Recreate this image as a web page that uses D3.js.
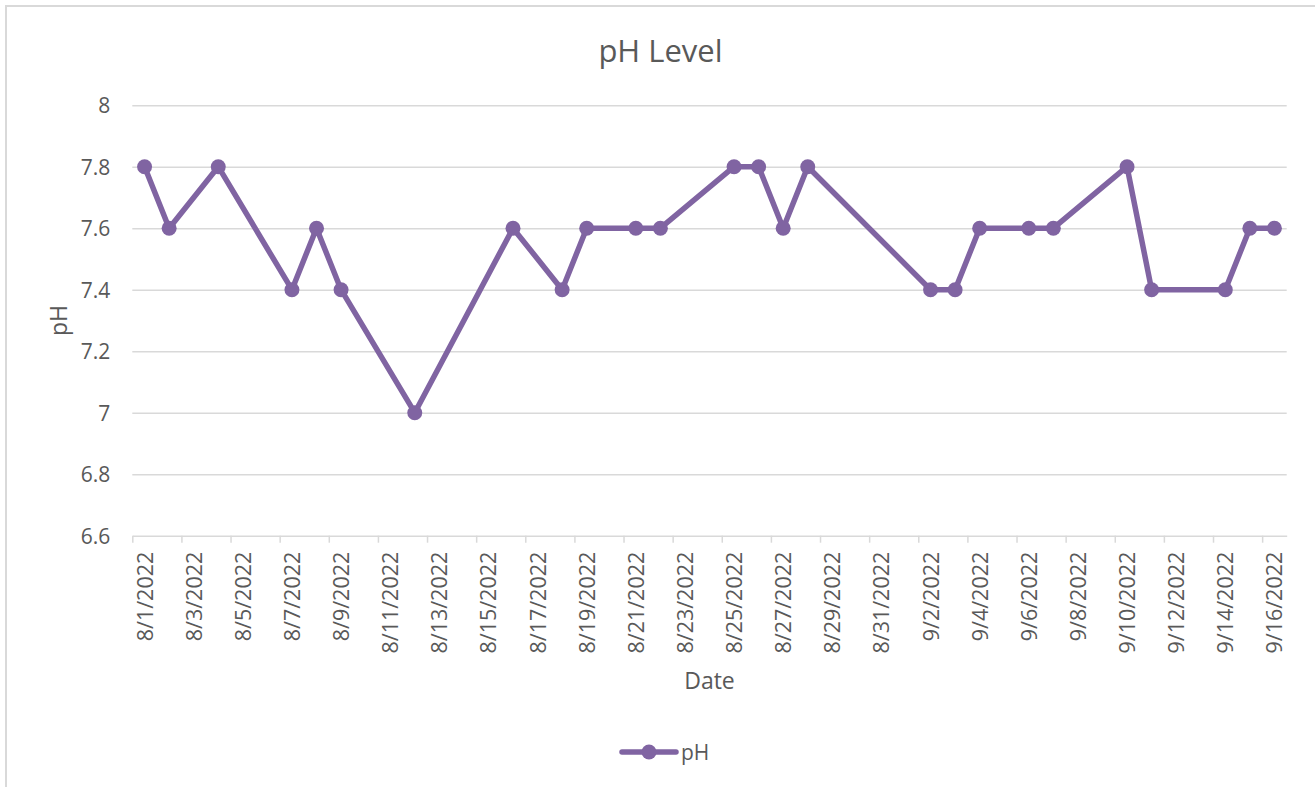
<!DOCTYPE html>
<html>
<head>
<meta charset="utf-8">
<script src="https://cdn.jsdelivr.net/npm/d3@7"></script>
<style>
  html, body { margin: 0; padding: 0; background: #fff; }
  svg { display: block; }
  svg text { font-family: "Open Sans", "Liberation Sans", sans-serif; }
  .domain { stroke: #d9d9d9; stroke-width: 1.5; }
</style>
</head>
<body>
<svg id="chart" width="1315" height="787"></svg>
<script>
// Daily pH readings
const readingDates = [
  "2022-08-01", "2022-08-02", "2022-08-04", "2022-08-07", "2022-08-08", "2022-08-09",
  "2022-08-12", "2022-08-16", "2022-08-18", "2022-08-19", "2022-08-21", "2022-08-22",
  "2022-08-25", "2022-08-26", "2022-08-27", "2022-08-28", "2022-09-02", "2022-09-03",
  "2022-09-04", "2022-09-06", "2022-09-07", "2022-09-10", "2022-09-11", "2022-09-14",
  "2022-09-15", "2022-09-16"
];
const phValues = [
  7.8, 7.6, 7.8, 7.4, 7.6, 7.4,
  7.0, 7.6, 7.4, 7.6, 7.6, 7.6,
  7.8, 7.8, 7.6, 7.8, 7.4, 7.4,
  7.6, 7.6, 7.6, 7.8, 7.4, 7.4,
  7.6, 7.6
];

// Axis labels
const xTickDates = [
  "2022-08-01", "2022-08-03", "2022-08-05", "2022-08-07", "2022-08-09", "2022-08-11",
  "2022-08-13", "2022-08-15", "2022-08-17", "2022-08-19", "2022-08-21", "2022-08-23",
  "2022-08-25", "2022-08-27", "2022-08-29", "2022-08-31", "2022-09-02", "2022-09-04",
  "2022-09-06", "2022-09-08", "2022-09-10", "2022-09-12", "2022-09-14", "2022-09-16"
];
const yTicks = [6.6, 6.8, 7.0, 7.2, 7.4, 7.6, 7.8, 8.0];

const chartTitle = "pH Level";
const xTitle = "Date";
const yTitle = "pH";
const seriesName = "pH";

const purple = "#8064a2";
const textColor = "#595959";
const gridColor = "#d9d9d9";

const parse = d3.utcParse("%Y-%m-%d");
const fmt = d3.utcFormat("%-m/%-d/%Y");
const HALF_DAY = 12 * 3600 * 1000;

const data = readingDates.map((d, i) => ({ date: parse(d), value: phValues[i] }));
const tickDates = xTickDates.map(parse);

const plot = { left: 132.3, right: 1286.7, top: 105.2, bottom: 535.7 };

const svg = d3.select("#chart");

// Chart frame
svg.append("rect")
  .attr("x", 6).attr("y", 6)
  .attr("width", 1330).attr("height", 800)
  .attr("fill", "#fff")
  .attr("stroke", gridColor).attr("stroke-width", 2);

// Each day occupies one slot; the axis runs from half a day before the first
// date to half a day after the last.
const x = d3.scaleUtc()
  .domain([new Date(tickDates[0] - HALF_DAY), new Date(+tickDates[tickDates.length - 1] + HALF_DAY)])
  .range([plot.left, plot.right]);

const y = d3.scaleLinear()
  .domain([yTicks[0], yTicks[yTicks.length - 1]])
  .range([plot.bottom, plot.top]);

// Horizontal gridlines
svg.append("g")
  .attr("transform", `translate(${plot.left},0)`)
  .call(d3.axisLeft(y).tickValues(yTicks.slice(1)).tickSize(-(plot.right - plot.left)).tickFormat(""))
  .call(g => g.select(".domain").remove())
  .call(g => g.selectAll("line").attr("stroke", gridColor).attr("stroke-width", 1.5));

// Y tick labels
svg.append("g")
  .attr("transform", `translate(${plot.left - 22},0)`)
  .call(d3.axisLeft(y).tickValues(yTicks).tickSize(0).tickPadding(0).tickFormat(d => d3.format("~g")(d)))
  .attr("font-family", null).attr("font-size", null)
  .call(g => g.select(".domain").remove())
  .call(g => g.selectAll("text")
    .attr("fill", textColor)
    .style("font-size", "21px")
    .attr("dy", "0.36em"));

// X axis line and tick marks at the start of each labelled day
svg.append("g")
  .attr("transform", `translate(0,${plot.bottom})`)
  .call(d3.axisBottom(x)
    .tickValues(tickDates.map(d => new Date(d - HALF_DAY)))
    .tickSize(7).tickSizeOuter(0).tickFormat(""))
  .call(g => g.selectAll(".tick line").attr("stroke", gridColor).attr("stroke-width", 1.5));

// X tick labels, rotated, centred on their day
svg.append("g")
  .attr("transform", `translate(0,${plot.bottom})`)
  .call(d3.axisBottom(x).tickValues(tickDates).tickSize(0).tickFormat(fmt))
  .attr("font-family", null).attr("font-size", null)
  .call(g => g.select(".domain").remove())
  .call(g => g.selectAll(".tick text")
    .attr("fill", textColor)
    .style("font-size", "21.5px")
    .attr("text-anchor", "end")
    .attr("dy", null)
    .attr("y", 0)
    .attr("transform", "translate(7.5,16) rotate(-90)"));

// Line series
const line = d3.line().x(d => x(d.date)).y(d => y(d.value));
svg.append("path")
  .datum(data)
  .attr("fill", "none")
  .attr("stroke", purple)
  .attr("stroke-width", 5.5)
  .attr("stroke-linejoin", "round")
  .attr("stroke-linecap", "round")
  .attr("d", line);

svg.append("g")
  .selectAll("circle")
  .data(data)
  .join("circle")
  .attr("cx", d => x(d.date))
  .attr("cy", d => y(d.value))
  .attr("r", 7.5)
  .attr("fill", purple);

// Titles
svg.append("text")
  .attr("x", 660.5).attr("y", 62)
  .attr("text-anchor", "middle")
  .attr("fill", textColor)
  .style("font-size", "31px")
  .text(chartTitle);

svg.append("text")
  .attr("x", (plot.left + plot.right) / 2).attr("y", 689)
  .attr("text-anchor", "middle")
  .attr("fill", textColor)
  .style("font-size", "23px")
  .text(xTitle);

svg.append("text")
  .attr("transform", `translate(67,${(plot.top + plot.bottom) / 2}) rotate(-90)`)
  .attr("text-anchor", "middle")
  .attr("fill", textColor)
  .style("font-size", "23px")
  .text(yTitle);

// Legend
const legend = svg.append("g").attr("transform", "translate(649,752)");
legend.append("line")
  .attr("x1", -27).attr("x2", 27)
  .attr("stroke", purple).attr("stroke-width", 5.5)
  .attr("stroke-linecap", "round");
legend.append("circle").attr("r", 7.5).attr("fill", purple);
legend.append("text")
  .attr("x", 32).attr("y", 7.5)
  .attr("fill", textColor)
  .style("font-size", "21px")
  .text(seriesName);
</script>
</body>
</html>
